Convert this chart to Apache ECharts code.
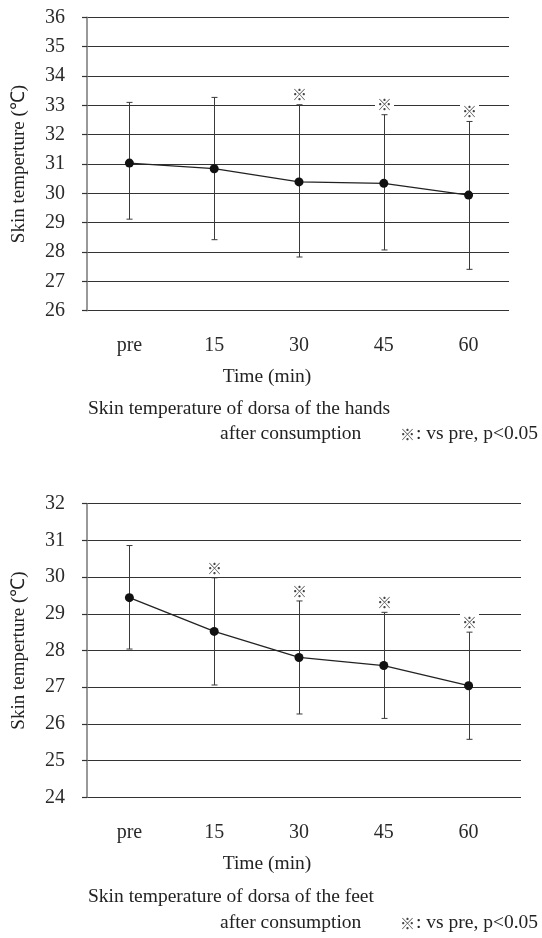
<!DOCTYPE html>
<html>
<head>
<meta charset="utf-8">
<script src="https://cdn.jsdelivr.net/npm/echarts@6/dist/echarts.min.js"></script>
<style>
html,body{margin:0;padding:0;background:#fff;}
#chart{width:542px;height:938px;}
</style>
</head>
<body>
<div id="chart"></div>
<script>
var categories = ['pre', '15', '30', '45', '60'];

var handsMean  = [31.03, 30.84, 30.39, 30.34, 29.94];
var handsUpper = [33.10, 33.27, 33.02, 32.68, 32.45];
var handsLower = [29.12, 28.42, 27.83, 28.07, 27.41];
var handsSig   = [0, 0, 1, 1, 1];

var feetMean  = [29.44, 28.52, 27.81, 27.59, 27.04];
var feetUpper = [30.86, 29.98, 29.35, 29.04, 28.50];
var feetLower = [28.04, 27.06, 26.27, 26.15, 25.58];
var feetSig   = [0, 1, 1, 1, 1];

var handsRange = [26, 36];
var feetRange = [24, 32];

var yName = 'Skin temperture (\u2103)';
var xName = 'Time (min)';
var handsCaption = 'Skin temperature of dorsa of the hands';
var feetCaption = 'Skin temperature of dorsa of the feet';
var caption2 = 'after consumption';
var sigNote = '\u203B: vs pre, p<0.05';

var SERIF = '"Liberation Serif", "Times New Roman", serif';
var TXT = '#222';

function errData(lo, hi, sig) {
  return lo.map(function (v, i) { return [i, v, hi[i], sig[i]]; });
}

function renderErr(params, api) {
  var top = api.coord([api.value(0), api.value(2)]);
  var bot = api.coord([api.value(0), api.value(1)]);
  var x = Math.round(top[0]) + 0.5;
  var st = { stroke: '#3a3a3a', lineWidth: 1 };
  var children = [
    { type: 'line', shape: { x1: x, y1: top[1], x2: x, y2: bot[1] }, style: st },
    { type: 'line', shape: { x1: x - 3, y1: top[1], x2: x + 3, y2: top[1] }, style: st },
    { type: 'line', shape: { x1: x - 3, y1: bot[1], x2: x + 3, y2: bot[1] }, style: st }
  ];
  if (api.value(3)) {
    children.push({
      type: 'text', x: x, y: top[1] - 10,
      style: {
        text: '\u203B', fill: '#444',
        font: '15px "Noto Sans CJK JP", sans-serif',
        align: 'center', verticalAlign: 'middle',
        backgroundColor: '#fff', padding: [1, 2]
      }
    });
  }
  return { type: 'group', children: children };
}

function dataYAxis(gi, range) {
  return {
    type: 'value', gridIndex: gi, min: range[0], max: range[1], interval: 1,
    name: yName, nameLocation: 'middle', nameGap: 58, nameRotate: 90,
    nameTextStyle: { fontFamily: SERIF, fontSize: 19, color: TXT },
    axisLine: { show: true, lineStyle: { color: '#777', width: 1.5 } },
    axisTick: { show: true, length: 5, lineStyle: { color: '#333', width: 1.2 } },
    axisLabel: { margin: 22, fontFamily: SERIF, fontSize: 20, color: '#2a2a2a' },
    splitLine: { show: false }
  };
}
function lineYAxis(gi, range) {
  return {
    type: 'value', gridIndex: gi, min: range[0], max: range[1], interval: 1,
    axisLine: { show: false }, axisTick: { show: false }, axisLabel: { show: false },
    splitLine: { show: true, lineStyle: { color: '#333', width: 1.2 } }
  };
}
function dataXAxis(gi) {
  return {
    type: 'category', gridIndex: gi, data: categories, boundaryGap: true,
    axisLine: { show: false }, axisTick: { show: false },
    axisLabel: { margin: 25, fontFamily: SERIF, fontSize: 20, color: '#2a2a2a' },
    splitLine: { show: false }
  };
}
function lineXAxis(gi) {
  return { type: 'category', gridIndex: gi, data: categories, show: false };
}

function meanSeries(ai, data) {
  return {
    type: 'line', xAxisIndex: ai, yAxisIndex: ai, data: data,
    symbol: 'circle', symbolSize: 9,
    itemStyle: { color: '#111' },
    lineStyle: { color: '#222', width: 1.3 },
    animation: false, z: 5
  };
}
function errSeries(ai, lo, hi, sig) {
  return {
    type: 'custom', xAxisIndex: ai, yAxisIndex: ai,
    data: errData(lo, hi, sig), renderItem: renderErr,
    animation: false, z: 4
  };
}

function txt(x, y, s, align) {
  return {
    type: 'text', x: x, y: y,
    style: { text: s, fill: TXT, font: '19.5px ' + SERIF, align: align || 'left', verticalAlign: 'middle' }
  };
}
function noteTxt(x, y) {
  return {
    type: 'group', x: x, y: y,
    children: [
      { type: 'text', x: 0, y: 0, style: { text: '\u203B', fill: '#444', font: '15px "Noto Sans CJK JP", sans-serif', align: 'left', verticalAlign: 'middle' } },
      { type: 'text', x: 16, y: 0, style: { text: sigNote.slice(1), fill: TXT, font: '19.5px ' + SERIF, align: 'left', verticalAlign: 'middle' } }
    ]
  };
}

var chart = echarts.init(document.getElementById('chart'), null, { renderer: 'canvas' });
chart.setOption({
  animation: false,
  backgroundColor: '#fff',
  grid: [
    { left: 87, right: 31, top: 17.3, height: 293.4 },
    { left: 87, right: 33, top: 17.3, height: 293.4 },
    { left: 87, right: 31, top: 503.7, height: 293.6 },
    { left: 87, right: 21, top: 503.7, height: 293.6 }
  ],
  xAxis: [dataXAxis(0), lineXAxis(1), dataXAxis(2), lineXAxis(3)],
  yAxis: [dataYAxis(0, handsRange), lineYAxis(1, handsRange), dataYAxis(2, feetRange), lineYAxis(3, feetRange)],
  series: [
    errSeries(0, handsLower, handsUpper, handsSig),
    meanSeries(0, handsMean),
    errSeries(2, feetLower, feetUpper, feetSig),
    meanSeries(2, feetMean)
  ],
  graphic: [
    txt(267, 377, xName, 'center'),
    txt(88, 409, handsCaption),
    txt(220, 434, caption2),
    noteTxt(400, 434),
    txt(267, 864, xName, 'center'),
    txt(88, 897, feetCaption),
    txt(220, 923, caption2),
    noteTxt(400, 923)
  ]
});
</script>
</body>
</html>
